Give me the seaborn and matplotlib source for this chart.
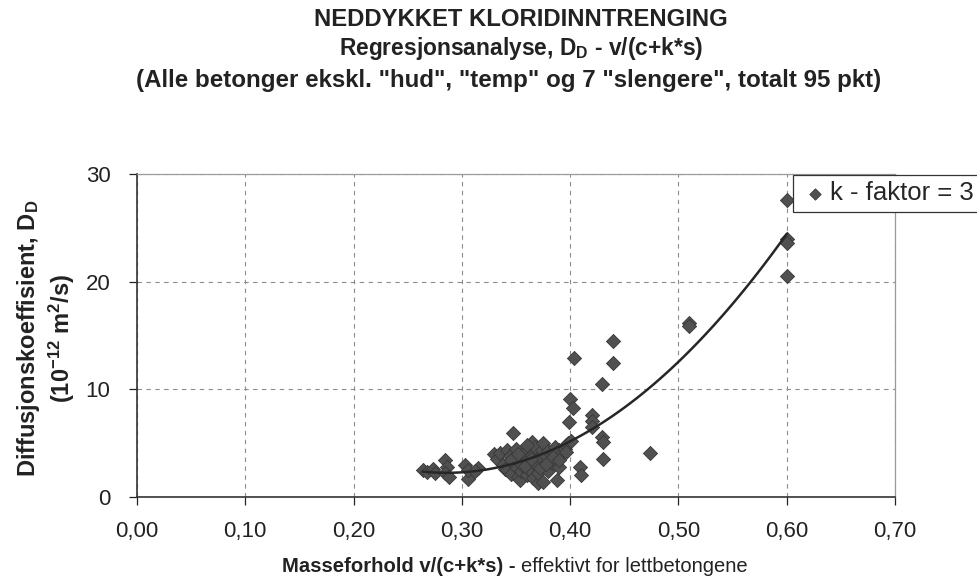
import numpy as np
import pandas as pd
import seaborn as sns
import matplotlib.pyplot as plt

# Data
masseforhold = [
    0.264, 0.268, 0.273, 0.275, 0.284, 0.286, 0.284, 0.288, 0.303, 0.306,
    0.306, 0.315, 0.312,
    0.330, 0.332, 0.335, 0.338, 0.340, 0.342, 0.342, 0.344, 0.345, 0.347,
    0.348, 0.350, 0.350, 0.352, 0.354, 0.354, 0.355, 0.356, 0.358, 0.360,
    0.360, 0.362, 0.363, 0.365, 0.365, 0.366, 0.368, 0.368, 0.370, 0.370,
    0.372, 0.374, 0.375, 0.375, 0.376, 0.378, 0.380, 0.380, 0.382, 0.383,
    0.385, 0.386, 0.388, 0.390, 0.390, 0.392, 0.395, 0.396, 0.398, 0.360,
    0.345, 0.352, 0.358, 0.364, 0.372, 0.378, 0.384, 0.390, 0.396, 0.401,
    0.399, 0.400, 0.403, 0.404, 0.409, 0.410, 0.420, 0.420, 0.420, 0.429,
    0.429, 0.430, 0.430, 0.440, 0.440, 0.474,
    0.510, 0.510, 0.600, 0.600, 0.600, 0.600,
]
diffusjon = [
    2.5, 2.3, 2.6, 2.2, 3.4, 2.8, 2.2, 1.9, 3.0, 1.7,
    2.5, 2.7, 2.4,
    4.0, 3.5, 4.1, 3.0, 2.6, 4.4, 2.5, 3.8, 2.1, 5.9,
    3.2, 2.8, 4.5, 1.9, 3.7, 1.6, 2.4, 3.0, 4.2, 2.0,
    3.4, 2.6, 2.5, 5.1, 3.9, 1.8, 4.6, 3.1, 1.3, 2.2,
    3.6, 4.4, 5.0, 1.4, 2.9, 3.8, 4.3, 2.4, 3.3, 3.2,
    4.1, 4.6, 1.6, 2.8, 4.4, 4.0, 4.5, 4.8, 5.0, 4.8,
    3.4, 4.0, 2.9, 3.5, 2.7, 3.1, 3.7, 3.4, 4.2, 5.2,
    7.0, 9.1, 8.3, 12.9, 2.8, 2.0, 7.6, 7.1, 6.5, 10.5,
    5.6, 5.1, 3.5, 14.5, 12.4, 4.1,
    16.2, 15.9, 27.6, 24.0, 23.6, 20.5,
]
serie_navn = 'k - faktor = 3'

x_ticks = [0.0, 0.1, 0.2, 0.3, 0.4, 0.5, 0.6, 0.7]
x_tick_labels = ['0,00', '0,10', '0,20', '0,30', '0,40', '0,50', '0,60', '0,70']
y_ticks = [0, 10, 20, 30]
y_tick_labels = ['0', '10', '20', '30']

df = pd.DataFrame({'x': masseforhold, 'y': diffusjon})

sns.set_theme(style='white')
plt.rcParams['font.family'] = ['Liberation Sans', 'DejaVu Sans']
plt.rcParams['mathtext.default'] = 'regular'

fig = plt.figure(figsize=(9.78, 5.83), dpi=100)
ax = fig.add_axes([137 / 978, 86 / 583, 758 / 978, 323 / 583])

# Punkter
sns.scatterplot(data=df, x='x', y='y', ax=ax, marker='D', s=52,
                color='#505050', edgecolor='#383838', linewidth=0.6,
                label=serie_navn, zorder=3)
# 2. grads trendlinje
sns.regplot(data=df, x='x', y='y', ax=ax, order=2, ci=None, scatter=False,
            line_kws=dict(color='#262626', linewidth=1.8, zorder=4))

ax.set_xlim(0, 0.7)
ax.set_ylim(0, 30)
ax.set_xticks(x_ticks)
ax.set_xticklabels(x_tick_labels)
ax.set_yticks(y_ticks)
ax.set_yticklabels(y_tick_labels)
ax.tick_params(axis='both', labelsize=16, colors='#222222', direction='out',
               length=6, width=0.9, left=True, bottom=True)
ax.tick_params(axis='x', pad=11)
ax.tick_params(axis='y', pad=13)
ax.set_xlabel('')
ax.set_ylabel('')

# Stiplet rutenett
ax.grid(True, color='#8c8c8c', linestyle=(0, (4, 4)), linewidth=0.8)
ax.set_axisbelow(True)

for side in ['left', 'bottom']:
    ax.spines[side].set_color('#333333')
    ax.spines[side].set_linewidth(1.2)
for side in ['top', 'right']:
    ax.spines[side].set_color('#9a9a9a')
    ax.spines[side].set_linewidth(0.9)

handles, labels = ax.get_legend_handles_labels()
leg = ax.legend(handles[:1], labels[:1], loc='upper left',
                bbox_to_anchor=(793 / 978, 1 - 175 / 583),
                bbox_transform=fig.transFigure, fontsize=18.5, frameon=True,
                fancybox=False, framealpha=1, edgecolor='#333333',
                borderpad=0.25, handletextpad=0.0, handlelength=1.2,
                markerscale=0.8, borderaxespad=0)
leg.get_frame().set_linewidth(0.9)

# Titler
fig.text(521 / 978, 1 - 20 / 583, 'NEDDYKKET KLORIDINNTRENGING',
         ha='center', va='center', fontsize=17.2, fontweight='bold', color='#222222')
fig.text(521 / 978, 1 - 49 / 583, 'Regresjonsanalyse, D$_D$ - v/(c+k*s)',
         ha='center', va='center', fontsize=16.4, fontweight='bold', color='#222222')
fig.text(509 / 978, 1 - 81 / 583,
         '(Alle betonger ekskl. "hud", "temp" og 7 "slengere", totalt 95 pkt)',
         ha='center', va='center', fontsize=17.4, fontweight='bold', color='#222222')

# Aksetitler
fig.text(46 / 978, 1 - 338 / 583,
         'Diffusjonskoeffisient, D$_D$\n(10$^{-12}$ m$^2$/s)',
         ha='center', va='center', rotation=90, fontsize=17,
         fontweight='bold', color='#222222', linespacing=1.2)
fig.text(516 / 978, 1 - 566 / 583, 'Masseforhold v/(c+k*s) -',
         ha='right', va='center', fontsize=14.6, fontweight='bold', color='#222222')
fig.text(521 / 978, 1 - 566 / 583, 'effektivt for lettbetongene',
         ha='left', va='center', fontsize=14.5, color='#222222')

fig.savefig('out.png', dpi=100)
